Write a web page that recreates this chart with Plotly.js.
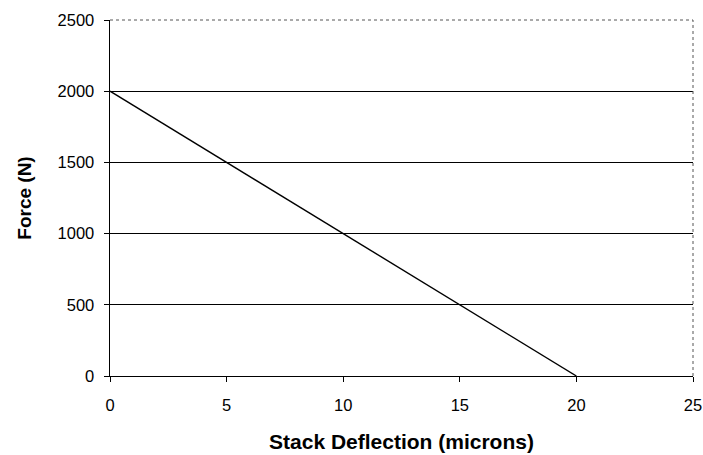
<!DOCTYPE html>
<html>
<head>
<script src="https://cdn.plot.ly/plotly-3.0.1.min.js"></script>
<style>body{margin:0;padding:0;background:#fff}#chart{width:703px;height:455px}</style>
</head>
<body>
<div id="chart"></div>
<script>
const deflection = [0, 5, 10, 15, 20];
const force = [2000, 1500, 1000, 500, 0];
const xTicks = [0, 5, 10, 15, 20, 25];
const yTicks = [0, 500, 1000, 1500, 2000, 2500];

const trace = {
  x: deflection, y: force, type: 'scatter', mode: 'lines',
  line: {color: '#000', width: 1.4}, hoverinfo: 'skip'
};
const layout = {
  width: 703, height: 455,
  margin: {l: 110, r: 10, t: 20, b: 79},
  paper_bgcolor: '#fff', plot_bgcolor: '#fff',
  showlegend: false,
  font: {family: 'Liberation Sans, Arial, sans-serif', color: '#000', size: 16},
  xaxis: {
    range: [0, 25], tickvals: xTicks, ticktext: xTicks.map(String),
    showgrid: false, zeroline: false, showline: true, linecolor: '#000', linewidth: 1.4,
    ticks: 'outside', ticklen: 5, tickcolor: '#000', tickfont: {size: 16.5},
    ticklabelstandoff: 9,
    title: {text: '<b>Stack Deflection (microns)</b>', font: {size: 21}, standoff: 21}
  },
  yaxis: {
    range: [0, 2500], tickvals: yTicks, ticktext: yTicks.map(String),
    showgrid: true, gridcolor: '#000', gridwidth: 1.4,
    zeroline: false, showline: true, linecolor: '#000', linewidth: 1.4,
    ticks: 'outside', ticklen: 5, tickcolor: '#000', tickfont: {size: 16.5},
    ticklabelstandoff: 6,
    title: {text: '<b>Force (N)</b>', font: {size: 19}, standoff: 21}
  },
  shapes: [
    {type: 'line', xref: 'paper', yref: 'paper', x0: 0, x1: 1, y0: 1, y1: 1,
     line: {color: '#555', width: 1, dash: 'dot'}},
    {type: 'line', xref: 'paper', yref: 'paper', x0: 1, x1: 1, y0: 0, y1: 1,
     line: {color: '#555', width: 1, dash: 'dot'}}
  ]
};
Plotly.newPlot('chart', [trace], layout, {staticPlot: true, displayModeBar: false});
</script>
</body>
</html>
